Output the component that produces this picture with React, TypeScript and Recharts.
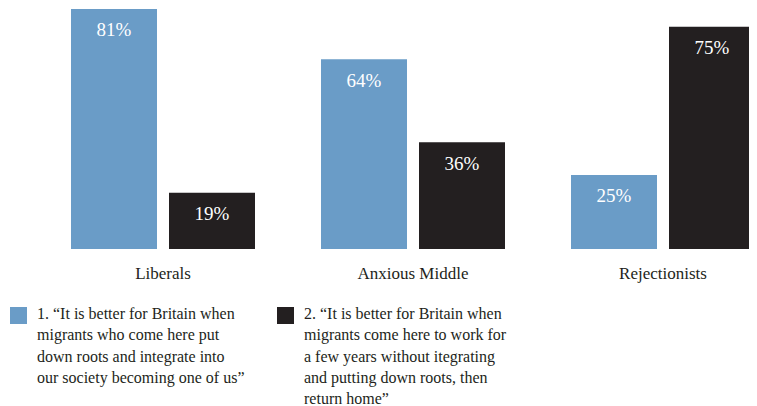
import { Bar, BarChart, LabelList, XAxis, YAxis } from 'recharts';

const groups = ['Liberals', 'Anxious Middle', 'Rejectionists'];
const integrate = [81, 64, 25];
const returnHome = [19, 36, 75];

const legendItems = [
  {
    color: '#6a9cc7',
    lines: [
      '1. \u201cIt is better for Britain when',
      'migrants who come here put',
      'down roots and integrate into',
      'our society becoming one of us\u201d',
    ],
  },
  {
    color: '#231f20',
    lines: [
      '2. \u201cIt is better for Britain when',
      'migrants come here to work for',
      'a few years without itegrating',
      'and putting down roots, then',
      'return home\u201d',
    ],
  },
];

const data = groups.map((name, i) => ({ name, integrate: integrate[i], returnHome: returnHome[i] }));

const FONT = "'Liberation Serif', 'DejaVu Serif'";
const INK = '#231f20';

const pct = (v: any) => `${v}%`;

export default function App() {
  return (
    <div
      style={{
        position: 'relative',
        width: 757,
        height: 406,
        overflow: 'hidden',
        margin: '-8px 0 0 -8px',
        background: '#fff',
        fontFamily: FONT,
      }}
    >
      <BarChart
        width={800}
        height={300}
        data={data}
        margin={{ top: 0, right: 12, left: 38, bottom: 0 }}
        barGap={12}
        barSize={86}
        style={{ fontFamily: FONT }}
      >
        <XAxis
          dataKey="name"
          height={51}
          axisLine={false}
          tickLine={false}
          tickMargin={12}
          tick={{ fill: INK, fontSize: 17, fontFamily: FONT }}
        />
        <YAxis hide domain={[0, 84]} />
        <Bar dataKey="integrate" fill={legendItems[0].color} isAnimationActive={false}>
          <LabelList
            dataKey="integrate"
            position="insideTop"
            offset={14}
            formatter={pct}
            fill="#fff"
            fontSize={19}
            fontFamily={FONT}
          />
        </Bar>
        <Bar dataKey="returnHome" fill={legendItems[1].color} isAnimationActive={false}>
          <LabelList
            dataKey="returnHome"
            position="insideTop"
            offset={14}
            formatter={pct}
            fill="#fff"
            fontSize={19}
            fontFamily={FONT}
          />
        </Bar>
      </BarChart>

      {legendItems.map((item, i) => (
        <div
          key={i}
          style={{
            position: 'absolute',
            left: i === 0 ? 10 : 277,
            top: 303,
            display: 'flex',
            alignItems: 'flex-start',
          }}
        >
          <div style={{ width: 17, height: 17, background: item.color, marginTop: 4, flexShrink: 0 }} />
          <div style={{ marginLeft: 10, fontSize: 16, lineHeight: '21.3px', color: INK, whiteSpace: 'nowrap' }}>
            {item.lines.map((l, j) => (
              <div key={j}>{l}</div>
            ))}
          </div>
        </div>
      ))}
    </div>
  );
}
